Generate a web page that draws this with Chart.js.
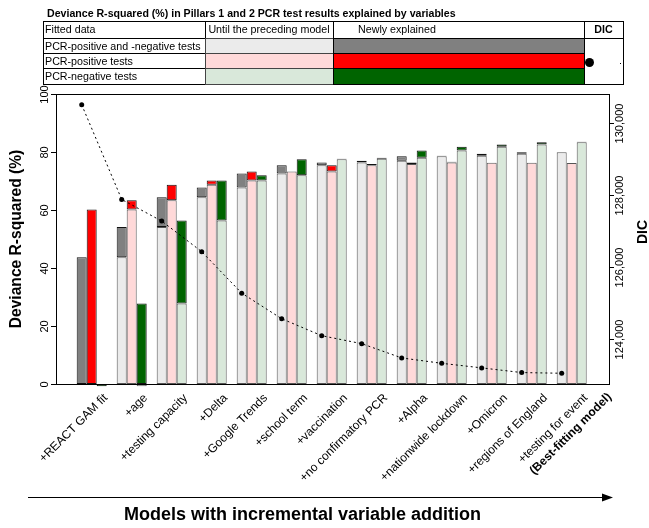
<!DOCTYPE html>
<html>
<head>
<meta charset="utf-8">
<script src="https://cdn.jsdelivr.net/npm/chart.js@4.4.1/dist/chart.umd.min.js"></script>
<style>
  body { margin: 0; background: #fff; }
  #wrap { position: relative; width: 649px; height: 528px; overflow: hidden;
          font-family: "Liberation Sans", Arial, Helvetica, sans-serif; color: #000; }
  canvas { position: absolute; left: 0; top: 0; }
  .ttl { position: absolute; left: 47px; top: 6px; font-size: 10.6px; font-weight: bold;
         line-height: 14px; white-space: nowrap; }
  .cell { position: absolute; box-sizing: border-box; border: 1px solid #000; }
  .txt { position: absolute; font-size: 10.7px; line-height: 14px; white-space: nowrap; }
  .dot { position: absolute; width: 9px; height: 9px; border-radius: 50%; background: #000; }
  .pt { position: absolute; width: 1px; height: 1px; background: #000; }
</style>
</head>
<body>
<div id="wrap">
  <canvas id="chart" width="649" height="528"></canvas>

  <div class="ttl">Deviance R-squared (%) in Pillars 1 and 2 PCR test results explained by variables</div>

  <!-- legend table: header row -->
  <div class="cell" style="left:43px;top:21px;width:163px;height:18px"></div>
  <div class="cell" style="left:205px;top:21px;width:129px;height:18px"></div>
  <div class="cell" style="left:333px;top:21px;width:252px;height:18px"></div>
  <div class="cell" style="left:584px;top:21px;width:40px;height:18px"></div>
  <div class="txt" style="left:45px;top:22px">Fitted data</div>
  <div class="txt" style="left:205px;top:22px;width:128px;text-align:center">Until the preceding model</div>
  <div class="txt" style="left:358px;top:22px;width:76px;text-align:center">Newly explained</div>
  <div class="txt" style="left:584px;top:22px;width:39px;text-align:center;font-weight:bold">DIC</div>

  <!-- legend table: one row per fitted series -->
  <div class="cell" style="left:43px;top:38px;width:163px;height:16px"></div>
  <div class="cell" style="left:205px;top:38px;width:129px;height:16px;background:#EBEBEB;border-color:#444"></div>
  <div class="cell" style="left:333px;top:38px;width:252px;height:16px;background:#808080"></div>
  <div class="txt" style="left:45px;top:38.5px">PCR-positive and -negative tests</div>

  <div class="cell" style="left:43px;top:53px;width:163px;height:16px"></div>
  <div class="cell" style="left:205px;top:53px;width:129px;height:16px;background:#FFD9D9;border-color:#444"></div>
  <div class="cell" style="left:333px;top:53px;width:252px;height:16px;background:#FF0000"></div>
  <div class="txt" style="left:45px;top:53.5px">PCR-positive tests</div>

  <div class="cell" style="left:43px;top:68px;width:163px;height:17px"></div>
  <div class="cell" style="left:205px;top:68px;width:129px;height:17px;background:#D9E8DA;border-color:#444"></div>
  <div class="cell" style="left:333px;top:68px;width:252px;height:17px;background:#006400"></div>
  <div class="txt" style="left:45px;top:69px">PCR-negative tests</div>

  <div class="cell" style="left:584px;top:38px;width:40px;height:47px"></div>
  <div class="dot" style="left:584.5px;top:57.5px"></div>
  <div class="pt" style="left:620px;top:63px"></div>
</div>

<script>
// Models, in the order variables were added
const models = [
  '+REACT GAM fit', '+age', '+testing capacity', '+Delta', '+Google Trends',
  '+school term', '+vaccination', '+no confirmatory PCR', '+Alpha',
  '+nationwide lockdown', '+Omicron', '+regions of England', '+testing for event'
];
const bestModelNote = '(Best-fitting model)';

// Deviance R-squared (%) of each model
const r2All = [43.7, 54.1, 64.4, 67.8, 72.6, 75.4, 76.4, 77.0, 78.5, 78.7, 79.4, 79.9, 79.9];
const r2Pos = [60.2, 63.4, 68.7, 70.2, 73.3, 73.3, 75.4, 75.9, 76.4, 76.6, 76.3, 76.3, 76.2];
const r2Neg = [-0.8, 27.8, 56.4, 70.2, 72.0, 77.5, 77.7, 78.0, 80.5, 81.8, 82.6, 83.4, 83.5];

// DIC of each model
const dic = [130498, 127871, 127271, 126423, 125272, 124562, 124092,
             123871, 123475, 123326, 123199, 123069, 123050];

// Axis ticks
const r2Ticks = [0, 20, 40, 60, 80, 100];
const dicTicks = [124000, 126000, 128000, 130000];

const FONT = '"Liberation Sans", Arial, Helvetica, sans-serif';
const LABEL_SHIFT = 0.35;   // tick labels end near the right edge of each group
const LABEL_SIZE = 12;

// Light bar: what the preceding model already explained
function prevPart(vals, i) {
  if (i === 0) return { x: i, y: null };
  return { x: i, y: [0, Math.min(vals[i - 1], vals[i])] };
}
// Dark bar: the gain brought by the added variable
function gainPart(vals, i) {
  if (i === 0) return { x: i, y: [0, vals[0]] };
  const p = vals[i - 1];
  return vals[i] > p ? { x: i, y: [Math.max(p, 0), vals[i]] } : { x: i, y: null };
}

function barSets(vals, stack, light, dark) {
  const common = { type: 'bar', stack, yAxisID: 'y', order: 1, clip: false,
                   borderWidth: 1, borderSkipped: false,
                   categoryPercentage: 0.75, barPercentage: 1.0 };
  return [
    Object.assign({}, common, { label: stack + ' preceding', data: vals.map((_, i) => prevPart(vals, i)),
                                backgroundColor: light, borderColor: '#555' }),
    Object.assign({}, common, { label: stack + ' new', data: vals.map((_, i) => gainPart(vals, i)),
                                backgroundColor: dark, borderColor: '#111' })
  ];
}

const decor = {
  id: 'decor',
  afterDatasetsDraw(chart) {
    const { ctx, chartArea: a, scales } = chart;
    ctx.save();
    ctx.strokeStyle = '#000';
    ctx.fillStyle = '#000';
    ctx.lineWidth = 1;
    // plot frame
    ctx.strokeRect(Math.round(a.left) + 0.5, Math.round(a.top) + 0.5,
                   Math.round(a.right - a.left), Math.round(a.bottom - a.top));

    // left axis ticks (labels parallel to the axis)
    ctx.font = '11px ' + FONT;
    ctx.textAlign = 'center';
    ctx.textBaseline = 'middle';
    r2Ticks.forEach(v => {
      const y = Math.round(scales.y.getPixelForValue(v)) + 0.5;
      ctx.beginPath(); ctx.moveTo(a.left - 5, y); ctx.lineTo(a.left, y); ctx.stroke();
      ctx.save(); ctx.translate(44.5, y); ctx.rotate(-Math.PI / 2);
      ctx.fillText(String(v), 0, 0); ctx.restore();
    });
    // right axis ticks
    dicTicks.forEach(v => {
      const y = Math.round(scales.y2.getPixelForValue(v)) + 0.5;
      ctx.beginPath(); ctx.moveTo(a.right, y); ctx.lineTo(a.right + 5, y); ctx.stroke();
      ctx.save(); ctx.translate(620, y); ctx.rotate(-Math.PI / 2);
      ctx.fillText(v.toLocaleString('en-US'), 0, 0); ctx.restore();
    });

    // axis titles
    ctx.font = 'bold 15.6px ' + FONT;
    ctx.save(); ctx.translate(17, (a.top + a.bottom) / 2); ctx.rotate(-Math.PI / 2);
    ctx.fillText('Deviance R-squared (%)', 0, 0); ctx.restore();
    ctx.font = 'bold 14px ' + FONT;
    ctx.save(); ctx.translate(643, 232); ctx.rotate(-Math.PI / 2);
    ctx.fillText('DIC', 0, 0); ctx.restore();

    // second, bold line of the last category label
    const xs = scales.x;
    const lastX = xs.getPixelForValue(models.length - 1 + LABEL_SHIFT);
    ctx.font = 'bold ' + LABEL_SIZE + 'px ' + FONT;
    ctx.textAlign = 'right';
    ctx.save(); ctx.translate(lastX + 24, a.bottom + 11); ctx.rotate(-Math.PI / 4);
    ctx.fillText(bestModelNote, 0, 0); ctx.restore();

    // direction arrow and its caption
    const ay = 497.5;
    ctx.beginPath(); ctx.moveTo(28, ay); ctx.lineTo(604, ay); ctx.stroke();
    ctx.beginPath(); ctx.moveTo(613, ay); ctx.lineTo(602, ay - 4); ctx.lineTo(602, ay + 4); ctx.closePath(); ctx.fill();
    ctx.font = 'bold 18px ' + FONT;
    ctx.textAlign = 'center';
    ctx.fillText('Models with incremental variable addition', 302.5, 515);
    ctx.restore();
  }
};

Chart.defaults.font.family = FONT;
Chart.defaults.color = '#000';

new Chart(document.getElementById('chart'), {
  data: {
    datasets: [
      {
        type: 'line', label: 'DIC', yAxisID: 'y2', order: 0,
        data: dic.map((v, i) => ({ x: i - 0.25, y: v })),
        borderColor: '#000', borderWidth: 1, borderDash: [2, 3], tension: 0,
        pointRadius: 2.5, pointBackgroundColor: '#000', pointBorderWidth: 0
      },
      ...barSets(r2All, 'all', '#EBEBEB', '#808080'),
      ...barSets(r2Pos, 'pos', '#FFD9D9', '#FF0000'),
      ...barSets(r2Neg, 'neg', '#D9E8DA', '#006400')
    ]
  },
  options: {
    responsive: false,
    animation: false,
    events: [],
    layout: { padding: { left: 56, right: 40, top: 94, bottom: 0 } },
    plugins: { legend: { display: false }, tooltip: { enabled: false } },
    scales: {
      x: {
        type: 'linear', min: -0.8925, max: 12.9325, offset: false,
        grid: { display: false, drawTicks: false }, border: { display: false },
        afterBuildTicks: s => { s.ticks = models.map((_, i) => ({ value: i + LABEL_SHIFT })); },
        afterFit: s => { s.height = 144; },
        ticks: {
          autoSkip: false, minRotation: 45, maxRotation: 45, padding: 7,
          font: { size: LABEL_SIZE }, color: '#000',
          callback: v => models[Math.round(v - LABEL_SHIFT)] ?? ''
        }
      },
      y: { type: 'linear', min: 0, max: 100, stacked: false, display: false },
      y2: { type: 'linear', position: 'right', min: 122752, max: 130796, display: false }
    }
  },
  plugins: [decor]
});
</script>
</body>
</html>
